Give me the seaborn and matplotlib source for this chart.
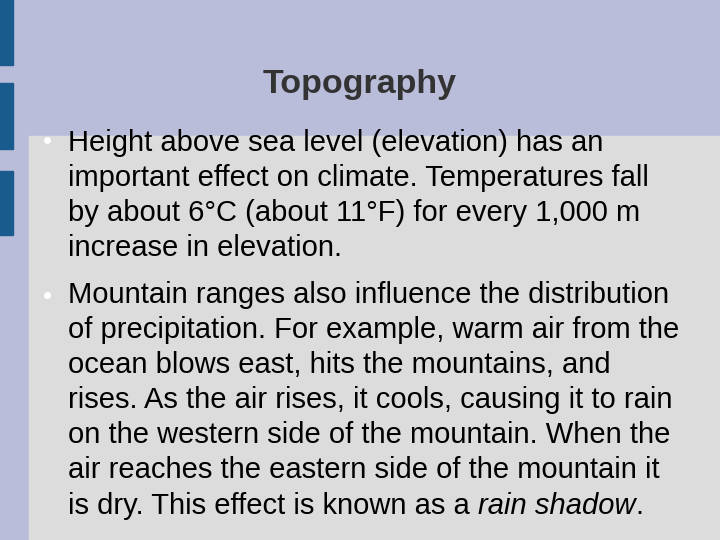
import matplotlib
matplotlib.use("Agg")
import matplotlib.pyplot as plt
import seaborn as sns
from matplotlib.patches import Rectangle

sns.set_style("white")
plt.rcParams['font.family'] = ['Liberation Sans', 'DejaVu Sans']

title = "Topography"
bullet1 = ["Height above sea level (elevation) has an",
           "important effect on climate. Temperatures fall",
           "by about 6°C (about 11°F) for every 1,000 m",
           "increase in elevation."]
bullet2 = ["Mountain ranges also influence the distribution",
           "of precipitation. For example, warm air from the",
           "ocean blows east, hits the mountains, and",
           "rises. As the air rises, it cools, causing it to rain",
           "on the western side of the mountain. When the",
           "air reaches the eastern side of the mountain it"]
last_prefix = "is dry. This effect is known as a "
last_italic = "rain shadow"

fig = plt.figure(figsize=(7.2, 5.4), dpi=100)
fig.patch.set_facecolor("#babdd9")
ax = fig.add_axes([0, 0, 1, 1])
ax.set_xlim(0, 720); ax.set_ylim(540, 0); ax.axis("off")
for y0, y1 in [(0, 65), (83, 149), (171, 235)]:
    ax.add_patch(Rectangle((0, y0), 13, y1 - y0, color="#195b8c"))
ax.add_patch(Rectangle((29, 136), 691, 404, color="#dcdcdc"))

ax.text(360, 84, title, ha="center", va="center", fontsize=24.5, fontweight="bold", color="#333333")
txt = dict(fontsize=21, color="black", va="center", ha="left")
lh = 35.1
for i, line in enumerate(bullet1):
    ax.text(68, 143 + i * lh, line, **txt)
ax.plot(47, 140, "o", color="white", ms=4)
for i, line in enumerate(bullet2):
    ax.text(68, 295 + i * lh, line, **txt)
ax.plot(47, 295, "o", color="white", ms=4)
y = 295 + 6 * lh
t = ax.text(68, y, last_prefix, **txt)
fig.canvas.draw()
bb = t.get_window_extent()
x2 = ax.transData.inverted().transform((bb.x1, 0))[0]
t2 = ax.text(x2, y, last_italic, style="italic", **txt)
bb2 = t2.get_window_extent(renderer=fig.canvas.get_renderer())
x3 = ax.transData.inverted().transform((bb2.x1, 0))[0]
ax.text(x3, y, ".", **txt)
fig.savefig("out.png", dpi=100, facecolor=fig.get_facecolor())
